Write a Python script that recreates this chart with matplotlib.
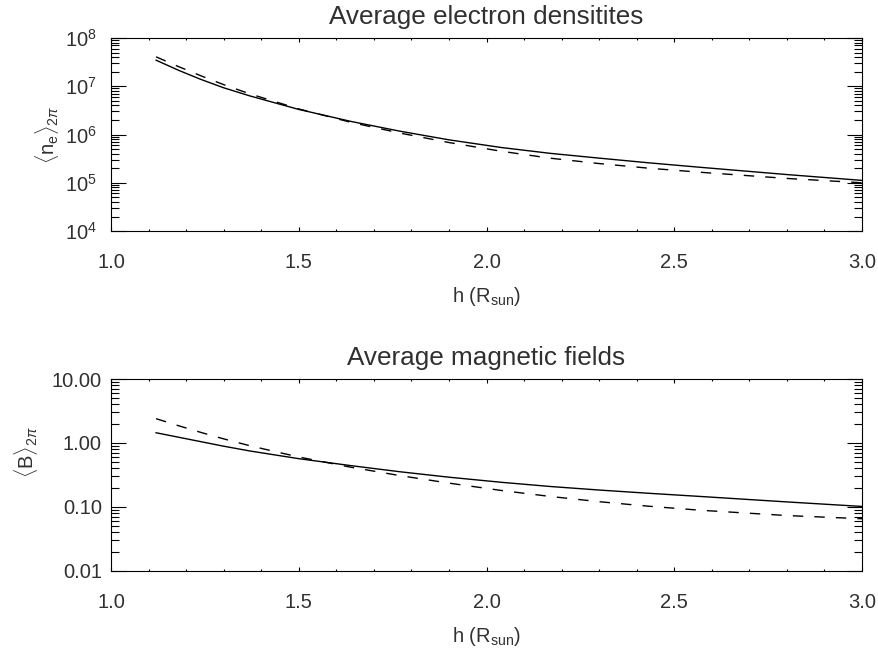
import numpy as np
import matplotlib
matplotlib.use('Agg')
import matplotlib.pyplot as plt
from matplotlib.ticker import MultipleLocator, LogLocator, FuncFormatter, NullFormatter

plt.rcParams['font.family'] = ['Liberation Sans', 'DejaVu Sans']
plt.rcParams['mathtext.fontset'] = 'custom'
plt.rcParams['mathtext.rm'] = 'Liberation Sans'
plt.rcParams['mathtext.it'] = 'Liberation Sans:italic'
plt.rcParams['mathtext.bf'] = 'Liberation Sans:bold'

TXT = '#303030'

# ── DATA ──
h = [1.12, 1.18, 1.24, 1.30, 1.37, 1.50, 1.64, 1.77,
     1.90, 2.04, 2.17, 2.30, 2.43, 2.57, 2.80, 3.00]

ne_solid = [3.47e7, 2.14e7, 1.38e7, 9.3e6, 6.3e6, 3.31e6, 1.86e6, 1.17e6,
            7.76e5, 5.37e5, 4.07e5, 3.24e5, 2.60e5, 2.09e5, 1.48e5, 1.12e5]
ne_dashed = [4.07e7, 2.55e7, 1.64e7, 1.08e7, 6.95e6, 3.39e6, 1.78e6, 1.07e6,
             6.82e5, 4.49e5, 3.23e5, 2.50e5, 2.01e5, 1.65e5, 1.23e5, 1.0e5]

B_solid = [1.445, 1.23, 1.047, 0.891, 0.750, 0.569, 0.442, 0.355,
           0.292, 0.243, 0.209, 0.184, 0.164, 0.146, 0.120, 0.102]
B_dashed = [2.40, 1.86, 1.46, 1.16, 0.905, 0.604, 0.417, 0.309,
            0.236, 0.181, 0.146, 0.121, 0.103, 0.0889, 0.0735, 0.0655]

DASH = (0, (7.5, 8))


def style_axes(ax, ypad):
    ax.set_xlim(1.0, 3.0)
    ax.set_yscale('log')
    ax.xaxis.set_major_locator(MultipleLocator(0.5))
    ax.xaxis.set_minor_locator(MultipleLocator(0.1))
    ax.xaxis.set_major_formatter(FuncFormatter(lambda v, p: '%.1f' % v))
    ax.yaxis.set_major_locator(LogLocator(base=10, numticks=20))
    ax.yaxis.set_minor_locator(LogLocator(base=10, subs=np.arange(2, 10),
                                          numticks=20))
    ax.yaxis.set_minor_formatter(NullFormatter())
    ax.tick_params(which='both', direction='in', top=True, right=True,
                   width=0.8, color='black', labelcolor=TXT,
                   labelsize=14.5)
    ax.tick_params(axis='x', which='major', length=3.2, pad=16)
    ax.tick_params(axis='x', which='minor', length=1.6)
    ax.tick_params(axis='y', which='major', length=11, pad=ypad)
    ax.tick_params(axis='y', which='minor', length=5.5)
    for s in ax.spines.values():
        s.set_linewidth(0.8)
    ax.set_xlabel(r'h (R$_{\mathrm{sun}}$)', fontsize=14.5, color=TXT,
                  labelpad=9)


fig = plt.figure(figsize=(8.79, 6.53), dpi=100)
ax1 = fig.add_axes([0.1263, 0.6462, 0.8544, 0.2956])
ax2 = fig.add_axes([0.1263, 0.1256, 0.8544, 0.2940])

# top: electron densities
ax1.plot(h, ne_solid, color='black', lw=1.0)
ax1.plot(h, ne_dashed, color='black', lw=1.0, ls=DASH)
style_axes(ax1, 10)
ax1.set_ylim(1e4, 1e8)
ax1.yaxis.set_major_formatter(
    FuncFormatter(lambda v, p: r'$\mathrm{10^{%d}}$' % round(np.log10(v))))
ax1.set_title('Average electron densitites', fontsize=18.8, color=TXT,
              pad=10)
ax1.set_ylabel(r'$\langle\mathrm{n}_\mathrm{e}\rangle_{2\pi}$',
               fontsize=14.5, color=TXT)
ax1.yaxis.set_label_coords(-0.066, 0.5)

# bottom: magnetic fields
ax2.plot(h, B_solid, color='black', lw=1.0)
ax2.plot(h, B_dashed, color='black', lw=1.0, ls=DASH)
style_axes(ax2, 6.5)
ax2.set_ylim(0.01, 10)
ax2.yaxis.set_major_formatter(FuncFormatter(lambda v, p: '%.2f' % v))
ax2.set_title('Average magnetic fields', fontsize=18.8, color=TXT, pad=10)
ax2.set_ylabel(r'$\langle\mathrm{B}\rangle_{2\pi}$', fontsize=14.5,
               color=TXT)
ax2.yaxis.set_label_coords(-0.094, 0.62)

fig.savefig('out.png', dpi=100)
